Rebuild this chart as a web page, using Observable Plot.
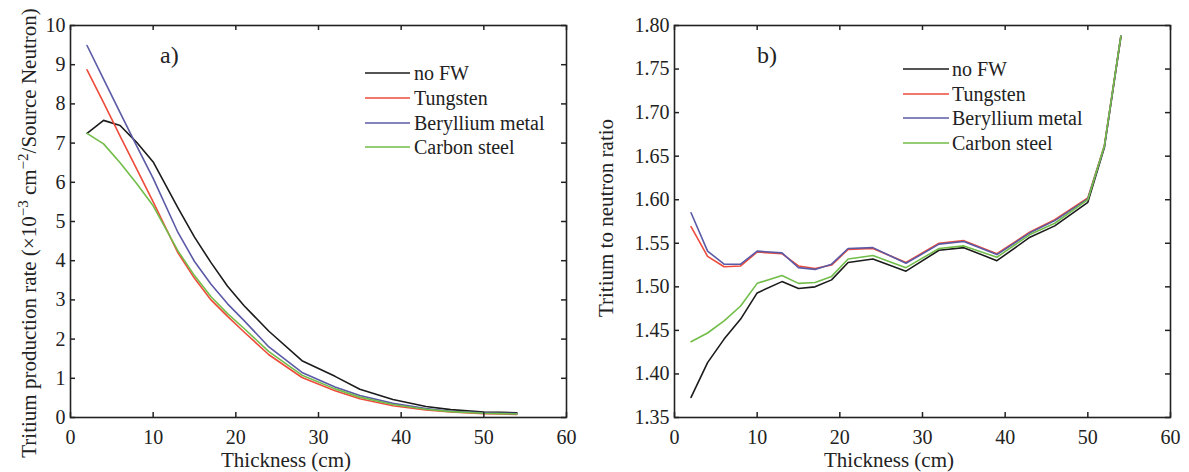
<!DOCTYPE html>
<html><head><meta charset="utf-8">
<script src="https://cdn.jsdelivr.net/npm/d3@7"></script>
<script src="https://cdn.jsdelivr.net/npm/@observablehq/plot@0.6"></script>
<style>
html,body{margin:0;padding:0;background:#fff;}
#wrap{position:relative;width:1189px;height:472px;overflow:hidden;background:#fff;}
#wrap > div{position:absolute;top:0;}
</style></head><body>
<div id="wrap"><div id="pa" style="left:0"></div><div id="pb" style="left:594px"></div></div>
<script>
// ---- data ----
const thickness = [2,4,6,8,10,13,15,17,19,21,24,28,32,35,39,43,46,50,52,54];
const seriesNames = ["no FW","Tungsten","Beryllium metal","Carbon steel"];
const seriesColors = ["#1b1b1b","#ee4b3a","#5b5aa6","#72bd4a"];

// a) tritium production rate (x10^-3 cm^-2 / source neutron)
const rateNoFW      = [7.25,7.58,7.45,7.02,6.52,5.35,4.60,3.95,3.35,2.85,2.20,1.45,1.05,0.72,0.46,0.28,0.20,0.14,0.13,0.12];
const rateTungsten  = [8.87,8.03,7.18,6.34,5.50,4.20,3.55,3.00,2.58,2.18,1.60,1.02,0.68,0.48,0.30,0.19,0.14,0.10,0.09,0.08];
const rateBeryllium = [9.49,8.63,7.78,6.93,6.10,4.72,3.98,3.40,2.90,2.47,1.80,1.15,0.78,0.56,0.36,0.23,0.16,0.12,0.11,0.10];
const rateCarbon    = [7.25,6.98,6.50,5.97,5.40,4.25,3.62,3.08,2.65,2.27,1.68,1.08,0.73,0.52,0.33,0.21,0.15,0.11,0.10,0.09];

// b) tritium to neutron ratio
const ratioNoFW      = [1.373,1.413,1.440,1.463,1.493,1.506,1.498,1.500,1.508,1.528,1.532,1.518,1.542,1.545,1.530,1.557,1.570,1.597,1.660,1.787];
const ratioTungsten  = [1.569,1.535,1.523,1.524,1.540,1.538,1.524,1.521,1.525,1.543,1.544,1.528,1.550,1.553,1.538,1.563,1.577,1.602,1.662,1.788];
const ratioBeryllium = [1.585,1.541,1.526,1.526,1.541,1.539,1.522,1.520,1.526,1.544,1.545,1.527,1.549,1.552,1.537,1.562,1.576,1.601,1.661,1.788];
const ratioCarbon    = [1.437,1.447,1.461,1.478,1.504,1.513,1.504,1.505,1.512,1.532,1.536,1.522,1.544,1.547,1.534,1.560,1.573,1.600,1.662,1.788];

const xTicks = [0,10,20,30,40,50,60];
const rateTicks = [0,1,2,3,4,5,6,7,8,9,10];
const ratioTicks = [1.35,1.40,1.45,1.50,1.55,1.60,1.65,1.70,1.75,1.80];

const FONT = '"Liberation Serif","Times New Roman",serif';
const INK = "#222";
const TICK = 5;
const MT = 25, MB = 55, H = 472;

function toLong(arrays){
  return arrays.flatMap((vals,i)=>thickness.map((t,j)=>({t, v: vals[j], s: seriesNames[i]})));
}

function panel({data, yDomain, yTicks, yFormat, width, ml, mr}){
  const innerH = H - MT - MB, innerW = width - ml - mr;
  const tk = {stroke: INK, strokeWidth: 1.5};
  return Plot.plot({
    width, height: H, marginLeft: ml, marginRight: mr, marginTop: MT, marginBottom: MB,
    style: {fontFamily: FONT, fontSize: "20px", color: INK, background: "transparent", overflow: "visible"},
    x: {domain: [0,60]},
    y: {domain: yDomain},
    color: {domain: seriesNames, range: seriesColors},
    marks: [
      Plot.line(data, {x: "t", y: "v", stroke: "s", strokeWidth: 1.6}),
      // tick labels
      Plot.axisX({anchor: "bottom", ticks: xTicks, tickSize: 0, tickPadding: 12, tickFormat: d => String(d), label: null}),
      Plot.axisY({anchor: "left", ticks: yTicks, tickSize: 0, tickPadding: 5, tickFormat: yFormat, label: null}),
      // inward ticks on all four sides
      Plot.tickX(xTicks, {x: d => d, insetTop: innerH - TICK, ...tk}),
      Plot.tickX(xTicks, {x: d => d, insetBottom: innerH - TICK, ...tk}),
      Plot.tickY(yTicks, {y: d => d, insetRight: innerW - TICK, ...tk}),
      Plot.tickY(yTicks, {y: d => d, insetLeft: innerW - TICK, ...tk}),
      Plot.frame({stroke: INK, strokeWidth: 1.6})
    ]
  });
}

function legend(svg, x0, x1, xt, ys){
  const g = d3.select(svg).append("g").style("font-family", FONT).style("font-size", "20px")
    .attr("text-anchor", "start");
  seriesNames.forEach((name, i) => {
    g.append("line").attr("x1", x0).attr("x2", x1).attr("y1", ys[i]).attr("y2", ys[i])
      .attr("stroke", seriesColors[i]).attr("stroke-width", 1.6);
    g.append("text").attr("x", xt).attr("y", ys[i]).attr("dy", "0.35em").attr("fill", INK).text(name);
  });
}

// ---- panel a ----
const svgA = panel({data: toLong([rateNoFW, rateTungsten, rateBeryllium, rateCarbon]),
  yDomain: [0,10], yTicks: rateTicks, yFormat: d => String(d), width: 594, ml: 70, mr: 28});
document.getElementById("pa").appendChild(svgA);
{
  const s = d3.select(svgA);
  s.append("text").attr("x", 286).attr("y", 467).attr("text-anchor", "middle")
    .style("font-family", FONT).style("font-size", "21px").attr("fill", INK).text("Thickness (cm)");
  const t = s.append("text").attr("transform", "translate(36,233) rotate(-90)").attr("text-anchor", "middle")
    .style("font-family", FONT).style("font-size", "21px").attr("fill", INK);
  t.append("tspan").text("Tritium production rate (\u00d710");
  t.append("tspan").attr("dy", -8).style("font-size", "15px").text("\u22123");
  t.append("tspan").attr("dy", 8).text("\u00a0cm");
  t.append("tspan").attr("dy", -8).style("font-size", "15px").text("\u22122");
  t.append("tspan").attr("dy", 8).text("/Source Neutron)");
  s.append("text").attr("x", 160).attr("y", 63).attr("text-anchor", "start")
    .style("font-family", FONT).style("font-size", "24px").attr("fill", INK).text("a)");
  legend(svgA, 365, 410, 414, [73, 98, 123, 147]);
}

// ---- panel b ----
const svgB = panel({data: toLong([ratioNoFW, ratioTungsten, ratioBeryllium, ratioCarbon]),
  yDomain: [1.35,1.80], yTicks: ratioTicks, yFormat: d3.format(".2f"), width: 595, ml: 80, mr: 19});
document.getElementById("pb").appendChild(svgB);
{
  const s = d3.select(svgB);
  s.append("text").attr("x", 295).attr("y", 467).attr("text-anchor", "middle")
    .style("font-family", FONT).style("font-size", "21px").attr("fill", INK).text("Thickness (cm)");
  s.append("text").attr("transform", "translate(19,218) rotate(-90)").attr("text-anchor", "middle")
    .style("font-family", FONT).style("font-size", "21px").attr("fill", INK).text("Tritium to neutron ratio");
  s.append("text").attr("x", 163).attr("y", 63).attr("text-anchor", "start")
    .style("font-family", FONT).style("font-size", "24px").attr("fill", INK).text("b)");
  legend(svgB, 309, 355, 358, [69, 94, 118, 143]);
}
</script>
</body></html>
